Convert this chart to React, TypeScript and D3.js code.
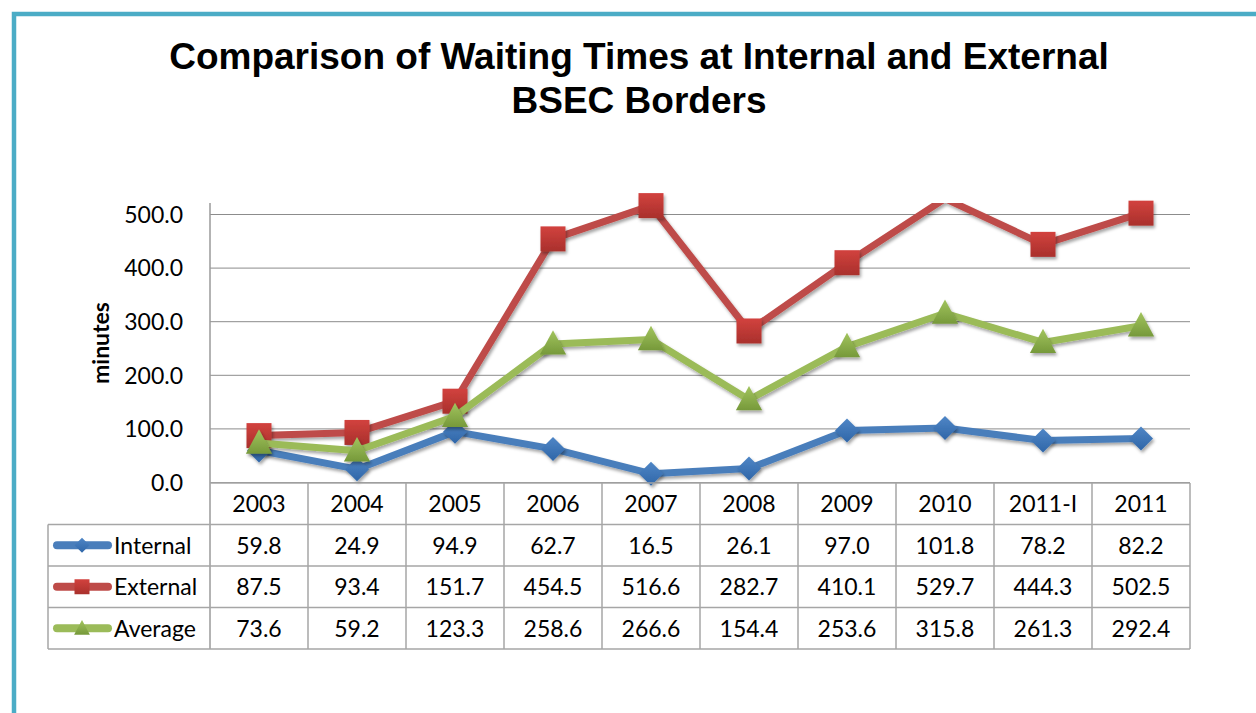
import * as d3 from "d3";

const categories = ["2003", "2004", "2005", "2006", "2007", "2008", "2009", "2010", "2011-I", "2011"];
const internal = [59.8, 24.9, 94.9, 62.7, 16.5, 26.1, 97.0, 101.8, 78.2, 82.2];
const external = [87.5, 93.4, 151.7, 454.5, 516.6, 282.7, 410.1, 529.7, 444.3, 502.5];
const average = [73.6, 59.2, 123.3, 258.6, 266.6, 154.4, 253.6, 315.8, 261.3, 292.4];
const yTicks = [0, 100, 200, 300, 400, 500];

const series = [
  { name: "Internal", values: internal, color: "#4A7EBB", light: "#4F86C6", dark: "#2F66A8", shape: "diamond" },
  { name: "External", values: external, color: "#BE4B48", light: "#D2423E", dark: "#A9302C", shape: "square" },
  { name: "Average", values: average, color: "#9BBB59", light: "#A2C45E", dark: "#76993A", shape: "triangle" },
];

const W = 1256;
const H = 713;
const plotLeft = 210;
const plotRight = 1190;
const plotTop = 203;
const plotBottom = 483;
const tableLeft = 48;
const rowH = 41.5;
const font = "Lato, 'Open Sans', sans-serif";

function markerPath(shape: string, s: number) {
  if (shape === "diamond") {
    return `M0,${-s}L${s},0L0,${s}L${-s},0Z`;
  }
  if (shape === "square") {
    return `M${-s},${-s}H${s}V${s}H${-s}Z`;
  }
  return `M0,${-s * 1.1}L${s * 1.05},${s * 0.85}H${-s * 1.05}Z`;
}

export default function App() {
  const x = d3.scaleBand<string>().domain(categories).range([plotLeft, plotRight]);
  const y = d3.scaleLinear().domain([0, 500]).range([482.5, 214.5]);
  const cx = (c: string) => (x(c) ?? 0) + x.bandwidth() / 2;

  const line = d3
    .line<number>()
    .x((_, i) => cx(categories[i]))
    .y((d) => y(d));

  const rows = series.length;
  const tableBottom = plotBottom + rowH * (rows + 1);

  return (
    <svg width={W} height={H} style={{ position: "absolute", left: 0, top: 0 }}>
      <defs>
        <clipPath id="plot">
          <rect x={plotLeft} y={plotTop} width={plotRight - plotLeft} height={plotBottom - plotTop} />
        </clipPath>
        <filter id="shadow" x="-50%" y="-50%" width="200%" height="200%">
          <feDropShadow dx="1.5" dy="2.5" stdDeviation="1.8" floodColor="#000" floodOpacity="0.35" />
        </filter>
        {series.map((s) => (
          <linearGradient key={s.name} id={`g-${s.name}`} x1="0" y1="0" x2="0" y2="1">
            <stop offset="0" stopColor={s.light} />
            <stop offset="1" stopColor={s.dark} />
          </linearGradient>
        ))}
      </defs>
      <rect width={W} height={H} fill="#fff" />
      {/* frame */}
      <path d={`M14,${H}V14H${W}`} fill="none" stroke="#4BACC6" strokeWidth={4.5} />

      {/* title */}
      <text
        x={639}
        textAnchor="middle"
        fontFamily="'Liberation Sans', Arial, sans-serif"
        fontWeight="bold"
        fontSize={37}
        fill="#000"
      >
        <tspan x={639} y={69}>Comparison of Waiting Times at Internal and External</tspan>
        <tspan x={639} y={113}>BSEC Borders</tspan>
      </text>

      {/* gridlines */}
      {yTicks.map((t) => (
        <line key={t} x1={plotLeft} x2={plotRight} y1={y(t)} y2={y(t)} stroke="#8C8C8C" strokeWidth={1} />
      ))}
      {yTicks.map((t) => (
        <text
          key={"l" + t}
          x={183}
          y={y(t)}
          dy="0.36em"
          textAnchor="end"
          fontFamily={font}
          fontSize={23}
          fill="#000"
        >
          {d3.format(".1f")(t)}
        </text>
      ))}
      <text
        transform={`translate(109,${(plotTop + plotBottom) / 2}) rotate(-90)`}
        textAnchor="middle"
        fontFamily={font}
        fontWeight="bold"
        fontSize={23}
        fill="#000"
      >
        minutes
      </text>

      {/* series */}
      {series.map((s) => (
        <g key={s.name}>
          <path
            d={line(s.values) ?? ""}
            fill="none"
            stroke={s.color}
            strokeWidth={7}
            strokeLinejoin="round"
            clipPath="url(#plot)"
            filter="url(#shadow)"
          />
          {s.values.map((v, i) =>
            y(v) >= plotTop ? (
              <path
                key={i}
                d={markerPath(s.shape, s.shape === "diamond" ? 12 : 12.5)}
                transform={`translate(${cx(categories[i])},${y(v)})`}
                fill={`url(#g-${s.name})`}
                filter="url(#shadow)"
              />
            ) : null
          )}
        </g>
      ))}

      {/* axis line */}
      <line x1={plotLeft} x2={plotLeft} y1={plotTop} y2={tableBottom} stroke="#9A9A9A" strokeWidth={1.5} />

      {/* data table */}
      <g stroke="#A6A6A6" strokeWidth={1.5}>
        <line x1={plotLeft} x2={plotRight} y1={plotBottom} y2={plotBottom} />
        {d3.range(1, rows + 2).map((r) => (
          <line key={r} x1={tableLeft} x2={plotRight} y1={plotBottom + r * rowH} y2={plotBottom + r * rowH} />
        ))}
        <line x1={tableLeft} x2={tableLeft} y1={plotBottom + rowH} y2={tableBottom} />
        {categories.map((c) => (
          <line key={c} x1={(x(c) ?? 0) + x.bandwidth()} x2={(x(c) ?? 0) + x.bandwidth()} y1={plotBottom} y2={tableBottom} />
        ))}
      </g>
      {categories.map((c) => (
        <text
          key={c}
          x={cx(c)}
          y={plotBottom + rowH / 2}
          dy="0.36em"
          textAnchor="middle"
          fontFamily={font}
          fontSize={23}
          fill="#000"
        >
          {c}
        </text>
      ))}
      {series.map((s, r) => {
        const ry = plotBottom + rowH * (r + 1.5);
        return (
          <g key={s.name}>
            <line x1={57} x2={108} y1={ry} y2={ry} stroke={s.color} strokeWidth={8} strokeLinecap="round" />
            <path
              d={markerPath(s.shape, 7.5)}
              transform={`translate(82,${ry})`}
              fill={`url(#g-${s.name})`}
            />
            <text x={114} y={ry} dy="0.36em" fontFamily={font} fontSize={23} fill="#000">
              {s.name}
            </text>
            {s.values.map((v, i) => (
              <text
                key={i}
                x={cx(categories[i])}
                y={ry}
                dy="0.36em"
                textAnchor="middle"
                fontFamily={font}
                fontSize={23}
                fill="#000"
              >
                {d3.format(".1f")(v)}
              </text>
            ))}
          </g>
        );
      })}
    </svg>
  );
}
